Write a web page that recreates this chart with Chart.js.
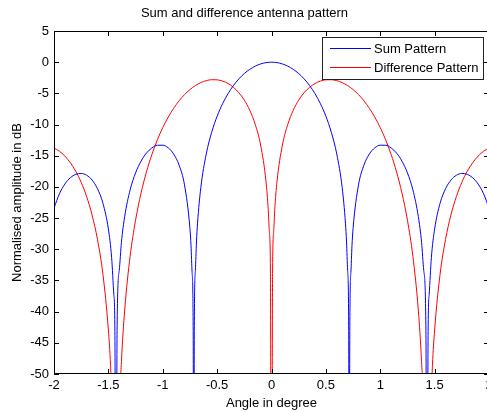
<!DOCTYPE html>
<html>
<head>
<meta charset="utf-8">
<script src="https://cdn.jsdelivr.net/npm/chart.js@4/dist/chart.umd.min.js"></script>
<style>
html, body { margin: 0; padding: 0; background: #fff; overflow: hidden; }
</style>
</head>
<body>
<canvas id="grafica" width="500" height="412"></canvas>
<script>
// Angle (graus) i amplitud normalitzada (dB) llegits de la figura
const angleSuma = [
  -2.00, -1.95, -1.90, -1.85, -1.80, -1.75, -1.70, -1.65, -1.60, -1.55, -1.50, -1.47, -1.45, -1.44, -1.43, -1.42, -1.40, -1.38,
  -1.35, -1.30, -1.25, -1.20, -1.15, -1.10, -1.05, -1.00, -0.95, -0.90, -0.85, -0.80, -0.75, -0.74, -0.73, -0.72, -0.715, -0.71,
  -0.70, -0.69, -0.68, -0.65, -0.60, -0.55, -0.50, -0.45, -0.40, -0.35, -0.30, -0.25, -0.20, -0.15, -0.10, -0.05,
  0,
  0.05, 0.10, 0.15, 0.20, 0.25, 0.30, 0.35, 0.40, 0.45, 0.50, 0.55, 0.60, 0.65, 0.68, 0.69, 0.70,
  0.71, 0.715, 0.72, 0.73, 0.74, 0.75, 0.80, 0.85, 0.90, 0.95, 1.00, 1.05, 1.10, 1.15, 1.20, 1.25, 1.30, 1.35,
  1.38, 1.40, 1.42, 1.43, 1.44, 1.45, 1.47, 1.50, 1.55, 1.60, 1.65, 1.70, 1.75, 1.80, 1.85, 1.90, 1.95, 2.00
];
const dbSuma = [
  -23.40, -21.09, -19.54, -18.53, -17.98, -17.84, -18.13, -18.90, -20.30, -22.63, -26.76, -31.35, -37.22, -43.18, -100, -43.04, -33.40, -28.89,
  -24.74, -20.48, -17.76, -15.88, -14.58, -13.75, -13.32, -13.31, -13.73, -14.72, -16.50, -19.68, -26.66, -29.45, -33.75, -43.18, -100, -43.04,
  -33.38, -28.83, -25.80, -20.12, -14.72, -11.23, -8.66, -6.66, -5.05, -3.74, -2.68, -1.82, -1.15, -0.64, -0.28, -0.07,
  0,
  -0.07, -0.28, -0.64, -1.15, -1.82, -2.68, -3.74, -5.05, -6.66, -8.66, -11.23, -14.72, -20.12, -25.80, -28.83, -33.38,
  -43.04, -100, -43.18, -33.75, -29.45, -26.66, -19.68, -16.50, -14.72, -13.73, -13.31, -13.32, -13.75, -14.58, -15.88, -17.76, -20.48, -24.74,
  -28.89, -33.40, -43.04, -100, -43.18, -37.22, -31.35, -26.76, -22.63, -20.30, -18.90, -18.13, -17.84, -17.98, -18.53, -19.54, -21.09, -23.40
];

const angleDiferencia = [
  -2.00, -1.95, -1.90, -1.85, -1.80, -1.75, -1.70, -1.65, -1.60, -1.55, -1.50, -1.48, -1.45, -1.43, -1.40, -1.38, -1.35,
  -1.30, -1.25, -1.20, -1.15, -1.10, -1.05, -1.00, -0.95, -0.90, -0.85, -0.80, -0.75, -0.70, -0.65, -0.60, -0.55,
  -0.50, -0.45, -0.40, -0.35, -0.30, -0.25, -0.20, -0.15, -0.10, -0.05, -0.03, -0.02, -0.01,
  0,
  0.01, 0.02, 0.03, 0.05, 0.10, 0.15, 0.20, 0.25, 0.30, 0.35, 0.40, 0.45, 0.50,
  0.55, 0.60, 0.65, 0.70, 0.75, 0.80, 0.85, 0.90, 0.95, 1.00, 1.05, 1.10, 1.15, 1.20, 1.25, 1.30,
  1.35, 1.38, 1.40, 1.43, 1.45, 1.48, 1.50, 1.55, 1.60, 1.65, 1.70, 1.75, 1.80, 1.85, 1.90, 1.95, 2.00
];
const dbDiferencia = [
  -13.75, -14.28, -15.06, -16.12, -17.50, -19.27, -21.55, -24.50, -28.44, -34.01, -42.95, -48.65, -64.4, -100, -57.0, -48.03, -39.76,
  -31.12, -25.34, -21.02, -17.60, -14.80, -12.46, -10.49, -8.82, -7.40, -6.20, -5.20, -4.39, -3.75, -3.27, -2.96, -2.81,
  -2.83, -3.03, -3.42, -4.03, -4.90, -6.09, -7.71, -9.96, -13.30, -19.22, -23.63, -27.15, -33.16,
  -100,
  -33.16, -27.15, -23.63, -19.22, -13.30, -9.96, -7.71, -6.09, -4.90, -4.03, -3.42, -3.03, -2.83,
  -2.81, -2.96, -3.27, -3.75, -4.39, -5.20, -6.20, -7.40, -8.82, -10.49, -12.46, -14.80, -17.60, -21.02, -25.34, -31.12,
  -39.76, -48.03, -57.0, -100, -64.4, -48.65, -42.95, -34.01, -28.44, -24.50, -21.55, -19.27, -17.50, -16.12, -15.06, -14.28, -13.75
];

const nomsSeries = ['Sum Pattern', 'Difference Pattern'];
const colorsSeries = ['#0000ff', '#ff0000'];

Chart.defaults.font.family = '"Liberation Sans", Arial, sans-serif';
Chart.defaults.font.size = 13;
Chart.defaults.color = '#000';

// marc de l'eix + marques cap a dins (estil MATLAB)
const marcEixos = {
  id: 'marcEixos',
  afterDatasetsDraw(chart) {
    const { ctx, chartArea: a, scales: { x, y } } = chart;
    ctx.save();
    ctx.strokeStyle = '#000';
    ctx.lineWidth = 1;
    ctx.beginPath();
    x.ticks.forEach(t => {
      const px = Math.round(x.getPixelForValue(t.value)) + 0.5;
      ctx.moveTo(px, a.bottom); ctx.lineTo(px, a.bottom - 5);
      ctx.moveTo(px, a.top); ctx.lineTo(px, a.top + 5);
    });
    y.ticks.forEach(t => {
      const py = Math.round(y.getPixelForValue(t.value)) + 0.5;
      ctx.moveTo(a.left, py); ctx.lineTo(a.left + 5, py);
      ctx.moveTo(a.right, py); ctx.lineTo(a.right - 5, py);
    });
    ctx.stroke();
    ctx.strokeRect(a.left + 0.5, a.top + 0.5, a.right - a.left - 1, a.bottom - a.top - 1);
    ctx.restore();
  }
};

const llegenda = {
  id: 'llegenda',
  afterDraw(chart) {
    const ctx = chart.ctx;
    ctx.save();
    ctx.fillStyle = '#fff';
    ctx.fillRect(322, 37, 161, 42);
    ctx.strokeStyle = '#222';
    ctx.lineWidth = 1;
    ctx.strokeRect(322.5, 37.5, 161, 42);
    ctx.font = '13px "Liberation Sans", Arial, sans-serif';
    ctx.textBaseline = 'middle';
    chart.data.datasets.forEach((ds, i) => {
      const yy = 48.5 + i * 19;
      ctx.strokeStyle = ds.borderColor;
      ctx.beginPath(); ctx.moveTo(330, yy); ctx.lineTo(371, yy); ctx.stroke();
      ctx.fillStyle = '#000';
      ctx.fillText(ds.label, 374, yy + 0.5);
    });
    ctx.restore();
  }
};

const serie = (xs, ys) => xs.map((v, i) => ({ x: v, y: ys[i] }));

new Chart(document.getElementById('grafica').getContext('2d'), {
  type: 'line',
  data: {
    datasets: [
      { label: nomsSeries[0], data: serie(angleSuma, dbSuma), borderColor: colorsSeries[0], borderWidth: 1, pointRadius: 0, fill: false, cubicInterpolationMode: 'monotone' },
      { label: nomsSeries[1], data: serie(angleDiferencia, dbDiferencia), borderColor: colorsSeries[1], borderWidth: 1, pointRadius: 0, fill: false, cubicInterpolationMode: 'monotone' }
    ]
  },
  options: {
    responsive: false, animation: false,
    layout: { padding: { left: 0, right: 11, top: 0, bottom: 0 } },
    scales: {
      x: {
        type: 'linear', min: -2, max: 2,
        ticks: { stepSize: 0.5, padding: 4, maxRotation: 0, callback: v => String(v) },
        grid: { display: false, drawTicks: false, tickLength: 0 },
        border: { display: false },
        title: { display: true, text: 'Angle in degree', padding: { top: 0, bottom: 1 } },
        afterFit: s => { s.height = 38; }
      },
      y: {
        type: 'linear', min: -50, max: 5,
        ticks: { stepSize: 5, padding: 5, callback: v => String(v) },
        grid: { display: false, drawTicks: false, tickLength: 0 },
        border: { display: false },
        title: { display: true, text: 'Normalised amplitude in dB', padding: { top: 10, bottom: 0 } },
        afterFit: s => { s.width = 54; }
      }
    },
    plugins: {
      legend: { display: false },
      tooltip: { enabled: false },
      title: { display: true, text: 'Sum and difference antenna pattern', font: { size: 13, weight: 'normal' }, color: '#000', padding: { top: 6, bottom: 9.4 } }
    }
  },
  plugins: [marcEixos, llegenda]
});
</script>
</body>
</html>
